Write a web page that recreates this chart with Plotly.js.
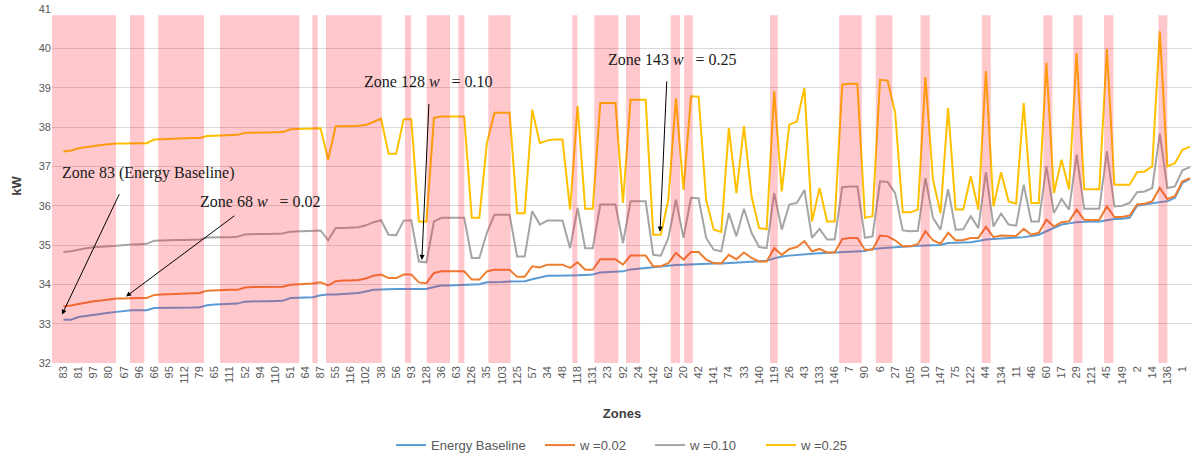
<!DOCTYPE html>
<html>
<head>
<meta charset="utf-8">
<script src="https://cdn.plot.ly/plotly-3.0.1.min.js"></script>
<style>html,body{margin:0;padding:0;background:#fff;}#chart{width:1192px;height:457px;}</style>
</head>
<body>
<div id="chart"></div>
<script>
// Visible zone labels (every second category, left to right)
const tickLabels = ['83','81','97','80','67','96','66','95','112','79','65','111','52','94','110','51','64','87','55',
  '116','102','38','56','93','128','36','63','126','35','103','125','57','34','48','118','131','23','92',
  '24','142','62','20','42','141','74','33','140','119','26','43','133','146','7','90','6','27','105','10',
  '147','75','122','44','134','11','46','60','17','29','121','45','149','2','14','136','1'];

const energyBaseline = [
  33.10,33.10,33.17,33.20,33.22,33.25,33.28,33.30,33.32,33.34,
  33.34,33.34,33.40,33.40,33.40,33.40,33.40,33.41,33.42,33.47,
  33.49,33.50,33.50,33.51,33.56,33.57,33.57,33.57,33.57,33.58,
  33.65,33.66,33.67,33.67,33.72,33.74,33.74,33.75,33.76,33.78,
  33.82,33.86,33.87,33.88,33.88,33.88,33.88,33.88,33.88,33.93,
  33.97,33.97,33.98,33.98,33.99,34.00,34.05,34.05,34.06,34.07,
  34.08,34.08,34.13,34.18,34.22,34.22,34.22,34.22,34.23,34.24,
  34.25,34.30,34.31,34.32,34.33,34.38,34.40,34.41,34.43,34.45,
  34.47,34.49,34.50,34.51,34.51,34.52,34.53,34.53,34.54,34.55,
  34.56,34.57,34.58,34.60,34.66,34.71,34.73,34.75,34.77,34.78,
  34.79,34.80,34.80,34.81,34.83,34.84,34.85,34.90,34.92,34.93,
  34.94,34.96,34.97,34.98,34.99,35.00,35.00,35.05,35.06,35.06,
  35.07,35.10,35.14,35.15,35.16,35.17,35.18,35.20,35.23,35.26,
  35.35,35.43,35.52,35.55,35.58,35.59,35.60,35.60,35.63,35.66,
  35.67,35.69,36.00,36.03,36.07,36.09,36.11,36.20,36.58,36.68];

const w002 = [
  33.44,33.46,33.50,33.54,33.57,33.59,33.62,33.64,33.64,33.65,
  33.65,33.65,33.73,33.74,33.75,33.76,33.77,33.78,33.78,33.84,
  33.85,33.86,33.86,33.86,33.92,33.93,33.93,33.93,33.93,33.94,
  33.99,34.00,34.00,34.02,34.05,33.97,34.08,34.10,34.10,34.11,
  34.15,34.22,34.25,34.16,34.16,34.25,34.25,34.05,34.03,34.29,
  34.33,34.33,34.33,34.33,34.12,34.12,34.33,34.37,34.37,34.37,
  34.19,34.19,34.46,34.43,34.50,34.50,34.50,34.42,34.56,34.37,
  34.37,34.64,34.64,34.64,34.50,34.73,34.73,34.73,34.46,34.46,
  34.54,34.80,34.63,34.82,34.82,34.63,34.54,34.53,34.75,34.64,
  34.81,34.67,34.58,34.58,34.92,34.75,34.90,34.95,35.10,34.84,
  34.90,34.81,34.81,35.15,35.18,35.18,34.88,34.88,35.24,35.22,
  35.12,34.97,34.97,35.02,35.35,35.12,35.03,35.31,35.12,35.13,
  35.18,35.18,35.46,35.20,35.24,35.24,35.23,35.41,35.26,35.31,
  35.64,35.47,35.58,35.60,35.90,35.64,35.63,35.64,35.98,35.71,
  35.71,35.75,36.03,36.05,36.11,36.45,36.17,36.24,36.62,36.70];

const w010 = [
  34.82,34.84,34.88,34.92,34.94,34.96,34.97,34.98,35.00,35.01,
  35.02,35.03,35.11,35.12,35.12,35.13,35.13,35.14,35.14,35.19,
  35.20,35.20,35.20,35.21,35.27,35.28,35.28,35.28,35.28,35.29,
  35.34,35.35,35.36,35.36,35.37,35.12,35.43,35.43,35.44,35.45,
  35.50,35.58,35.63,35.26,35.25,35.62,35.63,34.58,34.56,35.60,
  35.69,35.69,35.69,35.69,34.67,34.67,35.31,35.77,35.77,35.77,
  34.71,34.71,35.86,35.52,35.62,35.62,35.62,34.92,35.94,34.92,
  34.92,36.03,36.03,36.03,35.05,36.11,36.11,36.11,34.75,34.73,
  35.18,36.15,35.18,36.20,36.19,35.18,34.88,34.84,35.81,35.22,
  35.92,35.31,34.95,34.92,36.32,35.39,36.03,36.07,36.40,35.18,
  35.41,35.14,35.14,36.47,36.49,36.49,35.18,35.22,36.62,36.60,
  36.32,35.37,35.35,35.36,36.70,35.69,35.39,36.42,35.39,35.40,
  35.73,35.43,36.85,35.47,35.80,35.52,35.49,36.53,35.60,35.60,
  37.00,35.81,36.17,35.90,37.30,35.92,35.92,35.92,37.38,35.98,
  36.00,36.07,36.34,36.36,36.45,37.83,36.45,36.49,36.90,36.98];

const w025 = [
  37.38,37.40,37.46,37.49,37.52,37.54,37.56,37.58,37.58,37.59,
  37.59,37.59,37.68,37.69,37.70,37.71,37.72,37.72,37.72,37.77,
  37.78,37.79,37.80,37.80,37.85,37.86,37.86,37.86,37.86,37.87,
  37.94,37.95,37.96,37.97,37.97,37.17,38.02,38.02,38.02,38.03,
  38.05,38.14,38.21,37.32,37.32,38.20,38.20,35.60,35.60,38.23,
  38.27,38.27,38.27,38.27,35.69,35.69,37.59,38.36,38.36,38.36,
  35.81,35.81,38.44,37.59,37.66,37.68,37.68,35.90,38.53,35.92,
  35.92,38.61,38.61,38.61,36.07,38.69,38.69,38.69,35.26,35.26,
  36.15,38.73,36.40,38.78,38.77,36.15,35.39,35.33,37.97,36.32,
  38.02,36.24,35.43,35.40,38.91,36.36,38.06,38.14,38.99,35.60,
  36.45,35.60,35.60,39.08,39.10,39.10,35.69,35.73,39.20,39.18,
  38.36,35.83,35.83,35.90,39.27,36.66,35.81,38.48,35.90,35.90,
  36.75,35.90,39.42,35.98,36.85,36.11,36.05,38.61,36.07,36.07,
  39.63,36.32,37.17,36.41,39.88,36.42,36.42,36.42,39.98,36.53,
  36.53,36.53,36.85,36.87,37.00,40.43,37.00,37.08,37.42,37.50];

// Highlighted (pink) zone ranges, in category-index units
const pinkStart = [-1.52, 8.80,12.54,20.70,32.91,34.72,45.17,48.04,52.22,56.19,67.30,70.21,74.40,80.32,82.08,93.45,102.58,107.43,113.36,121.46,129.60,133.57,137.63,144.81];
const pinkEnd   = [ 6.94,10.69,18.58,31.19,33.62,42.09,45.97,51.12,53.02,59.15,67.96,73.39,76.26,81.55,83.23,94.47,105.58,109.63,114.58,122.65,130.79,134.76,138.86,146.00];
const pinkTop = 40.84;

const seriesNames = ['Energy Baseline','w =0.02','w =0.10','w =0.25'];
const seriesColors = ['#5B9BD5','#ED7D31','#A5A5A5','#FFC000'];
const seriesData = [energyBaseline, w002, w010, w025];
const legendIds = ['legend','legend2','legend3','legend4'];
const legendX = [0.2974, 0.4281, 0.5246, 0.6219];

const xIdx = energyBaseline.map((_, i) => i);
const tickVals = tickLabels.map((_, i) => 2 * i);

const traces = seriesData.map((d, k) => ({
  type: 'scatter', mode: 'lines', x: xIdx, y: d, name: seriesNames[k],
  legend: legendIds[k],
  line: {color: seriesColors[k], width: 2}, hoverinfo: 'skip'
}));

const shapes = pinkStart.map((s, i) => ({
  type: 'rect', xref: 'x', yref: 'y', x0: s, x1: pinkEnd[i], y0: 32, y1: pinkTop,
  fillcolor: 'rgba(255,35,55,0.25)', line: {width: 0}, layer: 'above'
}));

const serif = 'Liberation Serif, serif';
const annFont = {family: serif, size: 16, color: '#1a1a1a'};
const arrows = [
  {hx: -0.2, hy: 33.23, tx: 7.47, ty: 36.33},
  {hx: 8.27, hy: 33.69, tx: 22.8, ty: 35.77},
  {hx: 47.4, hy: 34.62, tx: 48.34, ty: 38.62},
  {hx: 78.9, hy: 35.34, tx: 79.8, ty: 39.2}
];
const labels = [
  {x: -0.46, y: 36.84, t: 'Zone 83 (Energy Baseline)'},
  {x: 17.79, y: 36.10, t: 'Zone 68 <i>w</i>&nbsp;&nbsp; = 0.02'},
  {x: 39.5, y: 39.15, t: 'Zone 128 <i>w</i>&nbsp;&nbsp; = 0.10'},
  {x: 71.8, y: 39.71, t: 'Zone 143 <i>w</i>&nbsp;&nbsp; = 0.25'}
];
const annotations = arrows.map(a => ({
  xref: 'x', yref: 'y', axref: 'x', ayref: 'y', x: a.hx, y: a.hy, ax: a.tx, ay: a.ty,
  text: '', showarrow: true, arrowhead: 2, arrowsize: 1, arrowwidth: 1, arrowcolor: '#000'
})).concat(labels.map(l => ({
  xref: 'x', yref: 'y', x: l.x, y: l.y, xanchor: 'left', yanchor: 'middle',
  text: l.t, showarrow: false, font: annFont
})));

const tickFont = {family: 'Liberation Sans, Arial, sans-serif', size: 11, color: '#595959'};
const layout = {
  width: 1192, height: 457,
  margin: {l: 52, r: 0, t: 9, b: 94},
  paper_bgcolor: '#fff', plot_bgcolor: '#fff',
  showlegend: true,
  font: {family: 'Liberation Sans, Arial, sans-serif', color: '#595959'},
  xaxis: {
    range: [-1.52, 149.26], tickmode: 'array', tickvals: tickVals, ticktext: tickLabels,
    tickangle: -90, showgrid: false, zeroline: false, showline: false, ticks: '',
    tickfont: tickFont, automargin: false,
    title: {text: '<b>Zones</b>', font: {size: 13, color: '#404040'}, standoff: 25}
  },
  yaxis: {
    range: [32, 41], dtick: 1, gridcolor: '#D9D9D9', gridwidth: 1, zeroline: false,
    showline: false, ticks: '', tickfont: tickFont, automargin: false,
    title: {text: '<b>kW</b>', font: {size: 13, color: '#404040'}, standoff: 14}
  },
  shapes: shapes,
  annotations: annotations
};
legendIds.forEach((id, k) => {
  layout[id] = {
    orientation: 'h', x: legendX[k], xanchor: 'left',
    yref: 'container', y: 0.026, yanchor: 'middle',
    font: {size: 13, color: '#595959'}, bgcolor: 'rgba(0,0,0,0)'
  };
});

Plotly.newPlot('chart', traces, layout, {displayModeBar: false, staticPlot: true});
</script>
</body>
</html>
